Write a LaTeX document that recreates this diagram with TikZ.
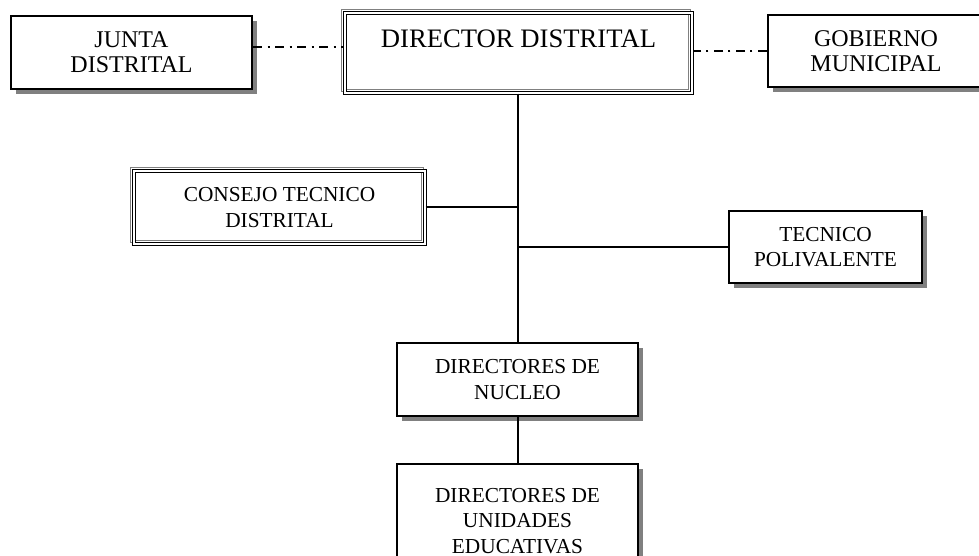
\documentclass[tikz,border=0pt]{standalone}
\usepackage{fontspec}
\setmainfont{Liberation Serif}
\usetikzlibrary{positioning,shadows}
\begin{document}
\begin{tikzpicture}[x=0.75pt,y=-0.75pt,
	box/.style={
		rectangle, draw, line width=1.5pt, fill=white, inner sep=0pt, align=center,
		font=\fontsize{16}{19}\selectfont
	},
	shadowbox/.style={
		box, drop shadow={shadow xshift=3.75pt, shadow yshift=-3.75pt, fill=black!50, opacity=1}
	},
	framebox/.style={
		rectangle, draw, line width=0.9pt, double=white, double distance=0.8pt,
		inner sep=0pt, align=center, font=\fontsize{16}{19}\selectfont,
		general shadow={shadow xshift=-2pt, shadow yshift=2pt, draw=black!50,
			line width=0.9pt, double=white, double distance=0.8pt}
	},
	link/.style={line width=1.5pt},
	dashdot/.style={line width=1.2pt, dash pattern=on 7pt off 4pt on 1.5pt off 4pt}
	]
	\useasboundingbox (0,0) rectangle (979,556);
	
	% Top row
	\node[shadowbox, minimum width=180.75pt, minimum height=54.75pt,
		font=\fontsize{18}{19}\selectfont] (junta) at (131.5,52.5) {JUNTA\\DISTRITAL};
	\node[framebox, minimum width=260.25pt, text height=26.25pt, text depth=33.75pt,
		font=\fontsize{20}{22}\selectfont] (director) at (518.5,53) {DIRECTOR DISTRITAL};
	\node[shadowbox, minimum width=162pt, minimum height=54pt,
		font=\fontsize{18}{19}\selectfont] (gobierno) at (876,51) {GOBIERNO\\MUNICIPAL};
	
	% Middle boxes
	\node[framebox, minimum width=218.25pt, minimum height=54.75pt] (consejo) at (279.5,207.5) {CONSEJO TECNICO\\DISTRITAL};
	\node[shadowbox, minimum width=144.75pt, minimum height=54pt] (tecnico) at (825.5,247) {TECNICO\\POLIVALENTE};
	
	% Lower boxes
	\node[shadowbox, minimum width=180.75pt, minimum height=54.75pt] (nucleo) at (517.5,379.5) {DIRECTORES DE\\NUCLEO};
	\node[shadowbox, minimum width=180.75pt, minimum height=85.5pt] (unidades) at (517.5,521) {DIRECTORES DE\\UNIDADES\\EDUCATIVAS};
	
	% Dash-dot links
	\draw[dashdot] ([yshift=4pt]junta.east) -- ([yshift=4pt]junta.east -| director.west);
	\draw[dashdot] (gobierno.west) -- (gobierno.west -| director.east);
	
	% Main line and branches
	\draw[link] (nucleo.north |- director.south) -- (nucleo.north);
	\draw[link] (consejo.east) -- (consejo.east -| nucleo.north);
	\draw[link] (tecnico.west) -- (tecnico.west -| nucleo.north);
	\draw[link] (nucleo.south) -- (unidades.north);
\end{tikzpicture}
\end{document}
